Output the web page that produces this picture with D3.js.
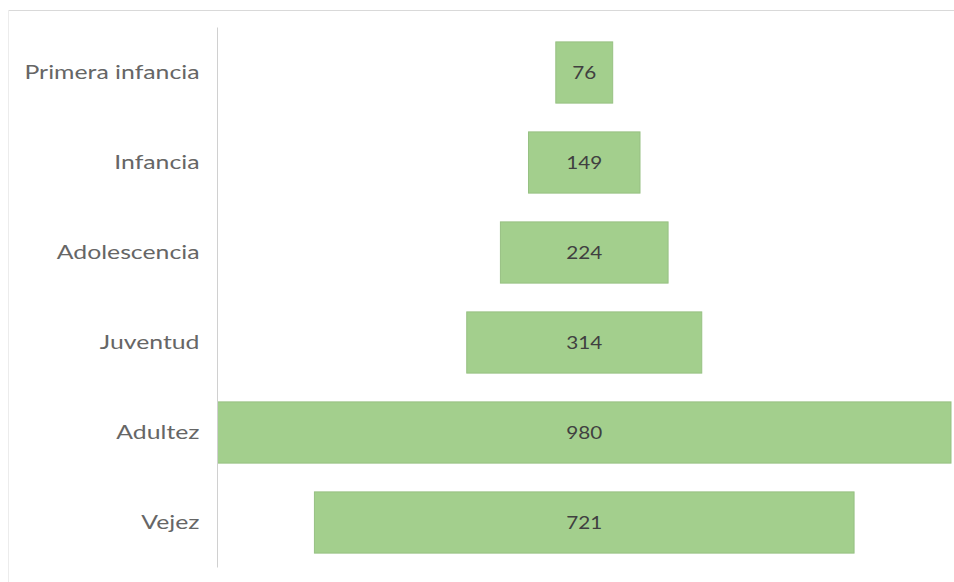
<!DOCTYPE html>
<html><head><meta charset="utf-8">
<script src="https://cdn.jsdelivr.net/npm/d3@7"></script>
<style>body{margin:0;background:#fff}svg{display:block}</style>
</head><body>
<script>
const categories = ["Primera infancia","Infancia","Adolescencia","Juventud","Adultez","Vejez"];
const values = [76,149,224,314,980,721];

const W = 954, H = 582;
const svg = d3.select("body").append("svg").attr("width", W).attr("height", H);

// chart frame (top/left edge visible)
svg.append("line").attr("x1",8).attr("x2",W).attr("y1",10.5).attr("y2",10.5).attr("stroke","#d9d9d9");
svg.append("line").attr("x1",8.5).attr("x2",8.5).attr("y1",10).attr("y2",H).attr("stroke","#ececec");

const left = 217.5, right = 951;
const maxV = d3.max(values);
const w = d3.scaleLinear().domain([0, maxV]).range([0, right - left]);
const cx = (left + right) / 2;
const y = d3.scaleBand().domain(categories).range([27.5, 567.5]).paddingInner(0.32).paddingOuter(0.16);

const data = categories.map((c,i)=>({c, v: values[i]}));

svg.selectAll("rect.bar").data(data).enter().append("rect")
  .attr("class","bar")
  .attr("x", d => cx - w(d.v)/2)
  .attr("y", d => y(d.c))
  .attr("width", d => w(d.v))
  .attr("height", y.bandwidth())
  .attr("fill", "#a3cf8d")
  .attr("stroke", "#97c183")
  .attr("stroke-width", 1);

const sxV = 1.15;
svg.selectAll("text.val").data(data).enter().append("text")
  .attr("class","val")
  .attr("transform", d => `translate(${cx},${y(d.c) + y.bandwidth()/2}) scale(${sxV},1)`)
  .attr("dy","0.36em")
  .attr("text-anchor","middle")
  .attr("font-family","Lato, 'Open Sans', sans-serif")
  .attr("font-size", 18)
  .attr("fill","#404040")
  .text(d => d.v);

// axis
const sxL = 1.24;
const axis = d3.axisLeft(y).tickSize(0).tickPadding(18);
const g = svg.append("g").attr("transform", `translate(${left},0)`).call(axis);
g.select(".domain").attr("stroke","#d0d0d0").attr("d", "M0,27.5V567.5");
g.selectAll(".tick text")
  .attr("x", -18 / sxL)
  .attr("transform", `scale(${sxL},1)`)
  .attr("font-family","Lato, 'Open Sans', sans-serif")
  .attr("font-size", 20)
  .attr("fill","#666666");
</script>
</body></html>
